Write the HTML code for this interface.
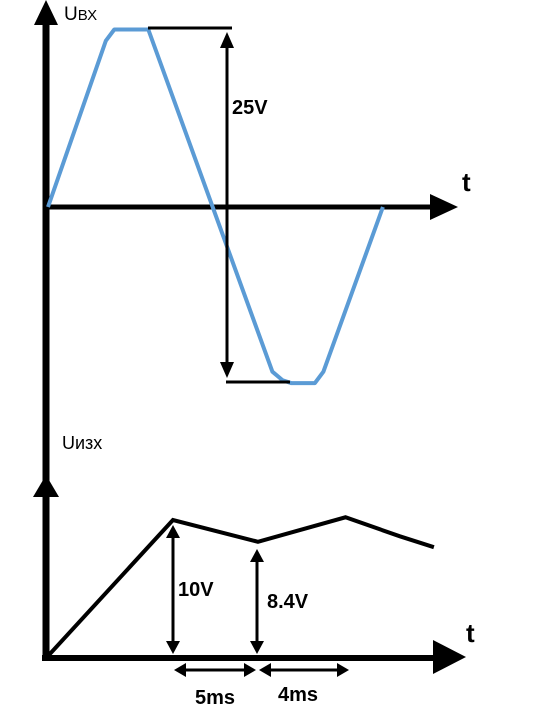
<!DOCTYPE html>
<html><head><meta charset="utf-8"><style>
body{margin:0;background:#fff;}
svg{display:block;font-family:"Liberation Sans","DejaVu Sans",sans-serif;}
</style></head><body>
<svg id="c" width="560" height="709" viewBox="0 0 560 709">
<!-- top axes -->
<line x1="46" y1="661" x2="46" y2="22" stroke="#000" stroke-width="7"/>
<polygon points="46,0 34,25 58,25" fill="#000"/>
<line x1="44" y1="207" x2="432" y2="207" stroke="#000" stroke-width="5"/>
<polygon points="458,207 430,194 430,220" fill="#000"/>
<text x="462" y="191" font-size="26" font-weight="bold">t</text>
<text x="64" y="20" font-size="19">U<tspan font-size="15">ВХ</tspan></text>
<g id="inp"></g>
<line x1="148" y1="28" x2="232" y2="28" stroke="#000" stroke-width="3"/>
<line x1="226" y1="382" x2="290" y2="382" stroke="#000" stroke-width="3"/>
<line x1="227" y1="44" x2="227" y2="366" stroke="#000" stroke-width="3"/>
<polygon points="227,32 220,48 234,48" fill="#000"/>
<polygon points="227,378 220,362 234,362" fill="#000"/>
<text x="232" y="114" font-size="20" font-weight="bold">25V</text>
<!-- bottom axes -->
<text x="62" y="449" font-size="18">Uизх</text>
<polygon points="46,475 33,497 59,497" fill="#000"/>
<line x1="42" y1="658" x2="436" y2="658" stroke="#000" stroke-width="6"/>
<polygon points="466,657 433,640 433,674" fill="#000"/>
<text x="466" y="642" font-size="26" font-weight="bold">t</text>
<g id="out"></g>
<g stroke="#000" stroke-width="3">
<line x1="173" y1="536" x2="173" y2="644"/><line x1="257" y1="560" x2="257" y2="644"/>
<line x1="182" y1="670" x2="248" y2="670"/><line x1="268" y1="670" x2="340" y2="670"/>
</g>
<g fill="#000">
<polygon points="173,525 166,538 180,538"/><polygon points="173,654 166,641 180,641"/>
<polygon points="257,549 250,562 264,562"/><polygon points="257,654 250,641 264,641"/>
<polygon points="174,670 186,663 186,677"/><polygon points="256,670 244,663 244,677"/>
<polygon points="259,670 271,663 271,677"/><polygon points="349,670 337,663 337,677"/>
</g>
<text x="178" y="596" font-size="20" font-weight="bold">10V</text>
<text x="267" y="608" font-size="20" font-weight="bold">8.4V</text>
<text x="195" y="704" font-size="20" font-weight="bold">5ms</text>
<text x="278" y="701" font-size="20" font-weight="bold">4ms</text>
</svg>
<script>
const inTimes=[0,3.4,3.9,5.9,13.2,13.8,14.3,15.7,16.2,19.7];
const inVolts=[0,11.7,12.5,12.5,-11.6,-12.2,-12.4,-12.4,-11.6,0];
const outTimes=[0,7.35,12.35,17.5,20.7,22.7];
const outVolts=[0,10,8.4,10.2,8.8,8.0];
const NS="http://www.w3.org/2000/svg";
const xIn=t=>48+t*17, yIn=v=>207-v*14.2;
const xOut=t=>48+t*17, yOut=v=>656-v*13.6;
const p1=document.createElementNS(NS,"polyline");
p1.setAttribute("points",inTimes.map((t,i)=>xIn(t)+","+yIn(inVolts[i])).join(" "));
p1.setAttribute("fill","none");p1.setAttribute("stroke","#5b9bd5");p1.setAttribute("stroke-width","4");p1.setAttribute("stroke-linejoin","round");


document.getElementById("inp").appendChild(p1);
const p2=document.createElementNS(NS,"polyline");
p2.setAttribute("points",outTimes.map((t,i)=>xOut(t)+","+yOut(outVolts[i])).join(" "));
p2.setAttribute("fill","none");p2.setAttribute("stroke","#000");p2.setAttribute("stroke-width","4");


document.getElementById("out").appendChild(p2);
</script>
</body></html>
